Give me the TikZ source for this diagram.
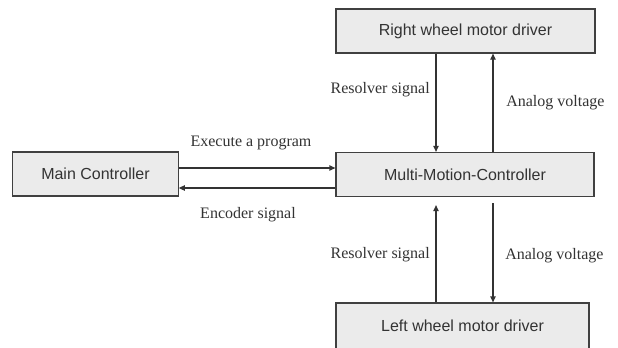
\documentclass[tikz,border=0pt]{standalone}
\usepackage{fontspec}
\setmainfont{Liberation Serif}
\setsansfont{Liberation Sans}
\usetikzlibrary{arrows.meta}

\begin{document}
\begin{tikzpicture}[x=0.75pt,y=-0.75pt,
    block/.style={draw=black!75,fill=black!8,line width=0.9pt,minimum height=33pt,
      inner sep=0pt,text=black!80,font=\sffamily\fontsize{12}{14}\selectfont},
    sig/.style={draw=black!80,line width=0.9pt,-{Triangle[length=4.5pt,width=4pt]}},
    lbl/.style={inner sep=0pt,text=black!80,font=\fontsize{12}{14}\selectfont}]
  \useasboundingbox (0,0) rectangle (618,347);
  \clip (0,0) rectangle (618,347);
  \fill[white] (0,0) rectangle (618,347);
  % blocks
  \node[block,minimum width=124pt] (main) at (95.5,174) {Main Controller};
  \node[block,minimum width=193.5pt] (mmc) at (465,174.5) {Multi-Motion-Controller};
  \node[block,minimum width=194.25pt] (rw) at (465.5,31) {Right wheel motor driver};
  \node[block,minimum width=189.75pt,minimum height=34.5pt] (lw) at (462.5,326) {Left wheel motor driver};
  % signal lanes
  \coordinate (resx) at (436,0);
  \coordinate (anax) at (493,0);
  \coordinate (exey) at (0,168);
  \coordinate (ency) at (0,188);
  \begin{scope}
    \draw[sig] (main.east |- exey) to (mmc.west |- exey);
    \draw[sig] (mmc.west |- ency) to (main.east |- ency);
    \draw[sig] (rw.south -| resx) to (mmc.north -| resx);
    \draw[sig] (mmc.north -| anax) to (rw.south -| anax);
    \draw[sig,shorten >=6pt] (lw.north -| resx) to (mmc.south -| resx);
    \draw[sig,shorten <=4.5pt] (mmc.south -| anax) to (lw.north -| anax);
  \end{scope}
  % labels
  \node[lbl] (exe) at (251,143) {Execute a program};
  \node[lbl] (enc) at (248,215) {Encoder signal};
  \node[lbl,anchor=east] (res1) at (430,90) {Resolver signal};
  \node[lbl,anchor=west] (ana1) at (506,103) {Analog voltage};
  \node[lbl,anchor=east] (res2) at (430,255) {Resolver signal};
  \node[lbl,anchor=west] (ana2) at (505,256) {Analog voltage};
\end{tikzpicture}
\end{document}
